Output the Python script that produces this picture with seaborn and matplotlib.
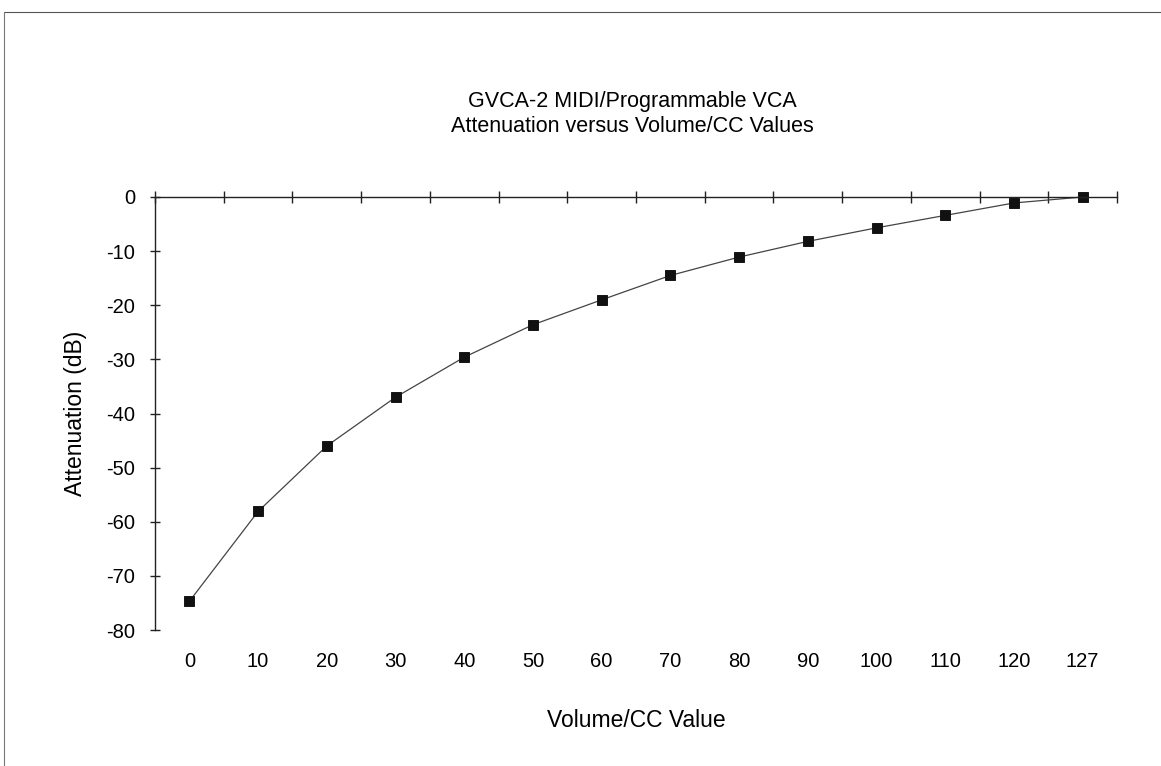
import matplotlib
matplotlib.use("Agg")
import matplotlib.pyplot as plt
from matplotlib.ticker import FixedLocator
import seaborn as sns
import pandas as pd

# data
cc_values = ["0", "10", "20", "30", "40", "50", "60", "70", "80", "90", "100", "110", "120", "127"]
attenuation_db = [-74.7, -58.1, -46.0, -37.0, -29.6, -23.6, -19.0, -14.5, -11.1, -8.2, -5.7, -3.4, -1.1, 0.0]
y_ticks = [0, -10, -20, -30, -40, -50, -60, -70, -80]

df = pd.DataFrame({"cc": cc_values, "db": attenuation_db})

sns.set_style("white")
plt.rcParams["font.family"] = ["Liberation Sans", "DejaVu Sans"]
plt.rcParams["text.color"] = "black"
plt.rcParams["axes.labelcolor"] = "black"

W, H = 1161, 766
fig = plt.figure(figsize=(W / 100, H / 100), dpi=100)
ax = fig.add_axes([155 / W, 1 - 630 / H, (1117 - 155) / W, (630 - 197) / H])

sns.pointplot(data=df, x="cc", y="db", ax=ax, color="#444444",
              markers="s", markersize=7, linewidth=0.9)
for ln in ax.lines:
    ln.set_clip_on(False)
    ln.set_markerfacecolor("#111111")
    ln.set_markeredgecolor("#111111")

ax.set_xlim(-0.5, len(cc_values) - 0.5)
ax.set_ylim(-80, 0)
ax.set_yticks(y_ticks)
ax.set_yticklabels([str(t) for t in y_ticks])

# x axis line sits at 0 (top), labels stay at the bottom
for side in ["right", "bottom"]:
    ax.spines[side].set_visible(False)
for side in ["top", "left"]:
    ax.spines[side].set_color("#222222")
    ax.spines[side].set_linewidth(1.0)

ax.tick_params(axis="x", which="major", length=0, pad=16, labelsize=14.5, labelcolor="black")
ax.xaxis.set_minor_locator(FixedLocator([i - 0.5 for i in range(len(cc_values) + 1)]))
ax.tick_params(axis="x", which="minor", top=True, bottom=False, direction="inout",
               length=8, width=1.0, color="#222222")
ax.tick_params(axis="y", which="major", left=True, direction="inout", length=6.5,
               width=1.0, color="#222222", pad=11, labelsize=14.5, labelcolor="black")

ax.set_xlabel("Volume/CC Value", fontsize=16.5, labelpad=27)
ax.set_ylabel("Attenuation (dB)", fontsize=16.5, labelpad=14)

fig.text(632 / W, 1 - 101 / H, "GVCA-2 MIDI/Programmable VCA", ha="center", va="center", fontsize=15.5)
fig.text(632 / W, 1 - 127 / H, "Attenuation versus Volume/CC Values", ha="center", va="center", fontsize=15.5)

# outer chart border (top and left edges)
fig.add_artist(plt.Line2D([4 / W, 1], [1 - 12 / H, 1 - 12 / H], transform=fig.transFigure, color="#555555", lw=0.8))
fig.add_artist(plt.Line2D([4 / W, 4 / W], [0, 1 - 12 / H], transform=fig.transFigure, color="#777777", lw=0.8))

fig.savefig("out.png", dpi=100)
